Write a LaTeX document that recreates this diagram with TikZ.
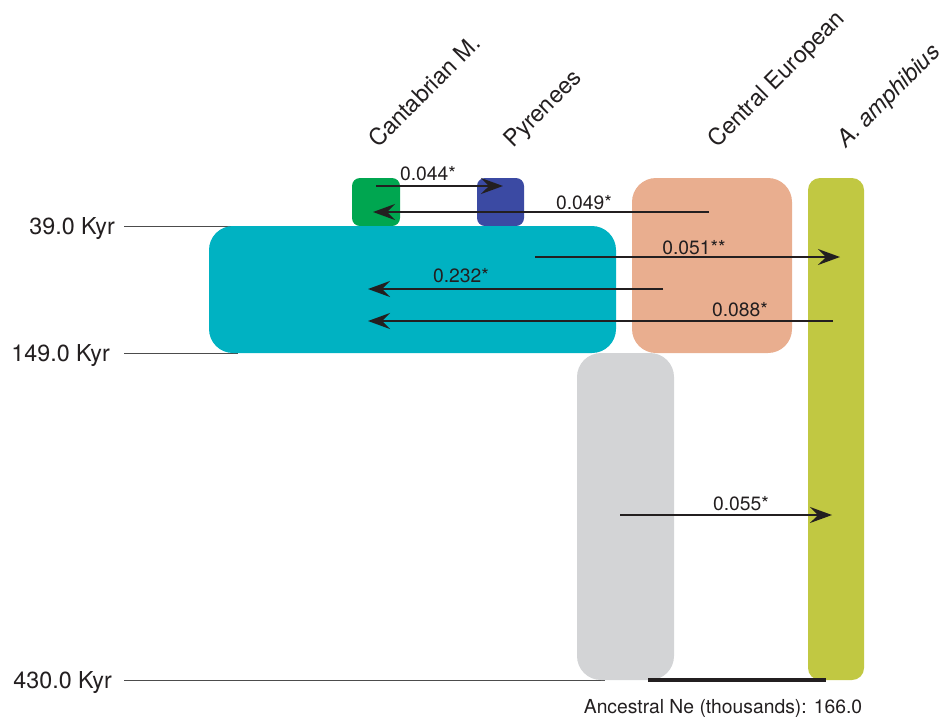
\documentclass[tikz,border=0pt]{standalone}
\usepackage{fontspec}
\setmainfont{TeX Gyre Heros}
\usetikzlibrary{arrows.meta}
\definecolor{cgreen}{RGB}{0,166,80}
\definecolor{cblue}{RGB}{59,74,163}
\definecolor{cteal}{RGB}{0,178,194}
\definecolor{csalmon}{RGB}{233,174,143}
\definecolor{cgray}{RGB}{211,212,214}
\definecolor{colive}{RGB}{193,200,66}
\definecolor{ctext}{RGB}{35,31,32}
\tikzset{
  popbox/.style={draw=none, inner sep=0pt, rounded corners=#1},
  popbox/.default=24pt,
  mig/.style={line width=1.8pt, ctext, -{Stealth[length=22pt, width=16pt, inset=8pt]}},
  num/.style={inner sep=0pt, anchor=base, text=ctext, font=\fontsize{19.3}{22}\selectfont},
  axis/.style={inner sep=0pt, anchor=base east, text=ctext, font=\fontsize{23.3}{26}\selectfont},
  poplab/.style={inner sep=0pt, anchor=base west, rotate=45, text=ctext, font=\fontsize{23.3}{26}\selectfont},
  tline/.style={line width=1pt, gray!60!black},
}
\begin{document}
\begin{tikzpicture}[x=1pt,y=-1pt]
\useasboundingbox (0,0) rectangle (941,716);
% time lines (behind boxes)
\coordinate (t1a) at (124,226); \coordinate (t1b) at (232,226);
\coordinate (t2a) at (124,353); \coordinate (t2b) at (238,353);
\coordinate (t3a) at (124,680); \coordinate (t3b) at (605,680);
\draw[tline] (t1a) -- (t1b);
\draw[tline] (t2a) -- (t2b);
\draw[tline] (t3a) -- (t3b);
% population boxes
\node[popbox=8pt, fill=cgreen, minimum width=48pt, minimum height=48pt] (cant) at (376,202) {};
\node[popbox=8pt, fill=cblue, minimum width=47pt, minimum height=48pt] (pyr) at (500.5,202) {};
\node[popbox, fill=cteal, minimum width=407pt, minimum height=127pt] (anc) at (412.5,289.5) {};
\node[popbox, fill=csalmon, minimum width=160pt, minimum height=175pt] (ceu) at (712,265.5) {};
\node[popbox, fill=cgray, minimum width=97pt, minimum height=327pt] (root) at (625.5,516.5) {};
\node[popbox=12pt, fill=colive, minimum width=56pt, minimum height=502pt] (amph) at (836,429) {};
% ancestral Ne bar
\coordinate (nea) at (648,680); \coordinate (neb) at (826,680);
\draw[line width=4.5pt, ctext] (nea) -- (neb);
% axis labels
\node[axis] (l1) at (115,234) {39.0 Kyr};
\node[axis] (l2) at (110,361) {149.0 Kyr};
\node[axis] (l3) at (112,688) {430.0 Kyr};
% population labels
\node[poplab] (lc) at (378,149) {Cantabrian M.};
\node[poplab] (lp) at (513,149) {Pyrenees};
\node[poplab] (le) at (717,149) {Central European};
\node[poplab] (la) at (846,149) {\itshape A. amphibius};
% migration arrows
\coordinate (m1a) at (376,186); \coordinate (m1b) at (503,186);
\coordinate (m2a) at (709,212); \coordinate (m2b) at (373,212);
\coordinate (m3a) at (535,257); \coordinate (m3b) at (840,257);
\coordinate (m4a) at (663,289); \coordinate (m4b) at (368,289);
\coordinate (m5a) at (833,321); \coordinate (m5b) at (368,321);
\coordinate (m6a) at (620,515); \coordinate (m6b) at (832,515);
\draw[mig] (m1a) -- (m1b);
\draw[mig] (m2a) -- (m2b);
\draw[mig] (m3a) -- (m3b);
\draw[mig] (m4a) -- (m4b);
\draw[mig] (m5a) -- (m5b);
\draw[mig] (m6a) -- (m6b);
\node[num] (n1) at (428,180) {0.044*};
\node[num] (n2) at (584,209) {0.049*};
\node[num] (n3) at (694,254) {0.051**};
\node[num] (n4) at (461,282) {0.232*};
\node[num] (n5) at (740,316) {0.088*};
\node[num] (n6) at (741,510) {0.055*};
\node[num] (ne) at (723,713) {Ancestral Ne (thousands): 166.0};
\end{tikzpicture}
\end{document}
